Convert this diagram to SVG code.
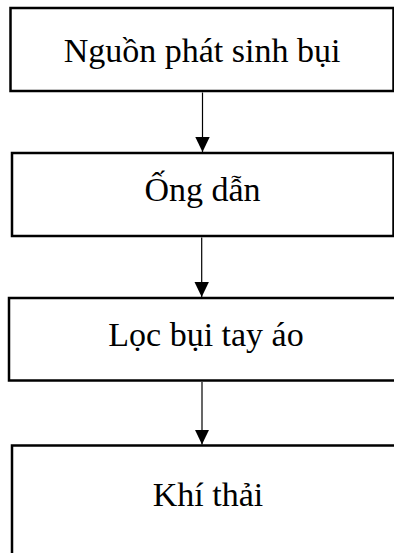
<svg xmlns="http://www.w3.org/2000/svg" width="394" height="553" viewBox="0 0 394 553">
  <style>
    .box { fill: #ffffff; stroke: #000000; stroke-width: 2.5; }
    .label { font-family: "Liberation Serif", "Times New Roman", serif; font-size: 34px; fill: #000000; text-anchor: middle; }
    .link { stroke: #000000; stroke-width: 1.2; fill: none; marker-end: url(#head); }
  </style>
  <defs>
    <marker id="head" markerUnits="userSpaceOnUse" markerWidth="16" markerHeight="16" viewBox="0 0 16 16" refX="15" refY="8" orient="auto">
      <path d="M0,0.8 L15,8 L0,15.2 Z" fill="#000000"/>
    </marker>
  </defs>
  <rect width="394" height="553" fill="#ffffff"/>

  <g id="node-source">
    <rect class="box" x="10.5" y="8" width="383" height="83"/>
    <text class="label" x="202" y="62">Nguồn phát sinh bụi</text>
  </g>

  <g id="node-duct">
    <rect class="box" x="12" y="153" width="381.5" height="83"/>
    <text class="label" x="202.5" y="201">Ống dẫn</text>
  </g>

  <g id="node-bagfilter">
    <rect class="box" x="9" y="298" width="400" height="82.5"/>
    <text class="label" x="206" y="346">Lọc bụi tay áo</text>
  </g>

  <g id="node-exhaust">
    <rect class="box" x="12" y="445.5" width="400" height="130"/>
    <text class="label" x="208" y="506">Khí thải</text>
  </g>

  <g id="connectors">
    <line class="link" x1="202.5" y1="92.5" x2="202.5" y2="152"/>
    <line class="link" x1="201.7" y1="237.5" x2="201.7" y2="297"/>
    <line class="link" x1="202" y1="382" x2="202" y2="444.5"/>
  </g>
</svg>
